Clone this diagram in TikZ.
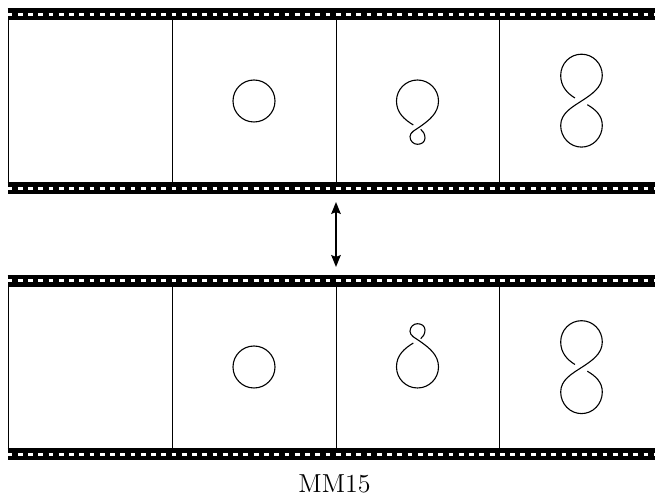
\documentclass[tikz,border=0pt]{standalone}
\usepackage{amsmath, amssymb, amsthm}
\usepackage{xcolor}
\usepackage{tikz}
\usetikzlibrary{arrows.meta}

\tikzset{
  strand/.style={line width=0.55pt},
  frameline/.style={line width=0.4pt},
  filmband/.style={line width=5.8pt},
  filmholes/.style={white, line width=1.4pt, dash pattern=on 2.4pt off 2.73pt, dash phase=0pt},
}

\newcommand{\filmband}[1]{
  \draw[filmband] (7.5, #1) -- (655, #1);
  \draw[filmholes] (7.5, #1) -- (655, #1);
}
\newcommand{\kinkknot}{
  \draw[strand] (-4.2, 24) .. controls (-13, 18.5) and (-21, 12) .. (-21, 0)
    .. controls (-21, -11.6) and (-11.6, -21) .. (0, -21)
    .. controls (11.6, -21) and (21, -11.6) .. (21, 0)
    .. controls (21, 12) and (12, 19) .. (2.5, 25.7)
    .. controls (-2, 29) and (-7.5, 31) .. (-7.5, 35.7)
    .. controls (-7.5, 40) and (-4, 43.3) .. (0, 43.3)
    .. controls (4, 43.3) and (7.5, 41) .. (7.5, 37)
    .. controls (7.5, 33) and (5.5, 30) .. (3.2, 28.3);
}
\newcommand{\eightknot}{
  \draw[strand] (-6.5, -2.5) .. controls (-14, -7) and (-20.8, -14) .. (-20.8, -25)
    .. controls (-20.8, -37) and (-11.5, -46.3) .. (0, -46.3)
    .. controls (11.5, -46.3) and (20.8, -37) .. (20.8, -25)
    .. controls (20.8, -13) and (10, -6) .. (0, 0.5)
    .. controls (-10, 7) and (-20.8, 13) .. (-20.8, 25)
    .. controls (-20.8, 37) and (-11.5, 46.6) .. (0, 46.6)
    .. controls (11.5, 46.6) and (20.8, 37) .. (20.8, 25)
    .. controls (20.8, 15) and (14, 9) .. (5.8, 4.2);
}

\begin{document}
\begin{tikzpicture}[x=0.5pt, y=-0.5pt]
\useasboundingbox (0, 0) rectangle (655, 497);

% upper strip
\foreach \xpos in {8, 172, 336, 499} {
  \draw[frameline] (\xpos, 14) -- (\xpos, 188);
  \draw[frameline] (\xpos, 280) -- (\xpos, 454);
}
\filmband{14.3}
\filmband{188.3}
\filmband{280.8}
\filmband{454.3}

\draw[strand] (254, 101) circle [radius=10.5pt];
\begin{scope}[shift={(417.5, 101)}]
\kinkknot
\end{scope}
\begin{scope}[shift={(581.5, 100.5)}]
\eightknot
\end{scope}

% lower strip
\draw[strand] (254, 367) circle [radius=10.5pt];
\begin{scope}[shift={(417.5, 367)}, yscale=-1]
\kinkknot
\end{scope}
\begin{scope}[shift={(581.5, 367)}]
\eightknot
\end{scope}

\coordinate (arrowtop) at (336, 202);
\coordinate (arrowbot) at (336, 267);
\draw[line width=0.75pt, {Stealth[length=6pt, width=4.8pt, inset=1pt]}-{Stealth[length=6pt, width=4.8pt, inset=1pt]}] (arrowtop) -- (arrowbot);

\node[font=\fontsize{13}{15}\selectfont] (caption) at (334.5, 484) {MM15};
\end{tikzpicture}
\end{document}
